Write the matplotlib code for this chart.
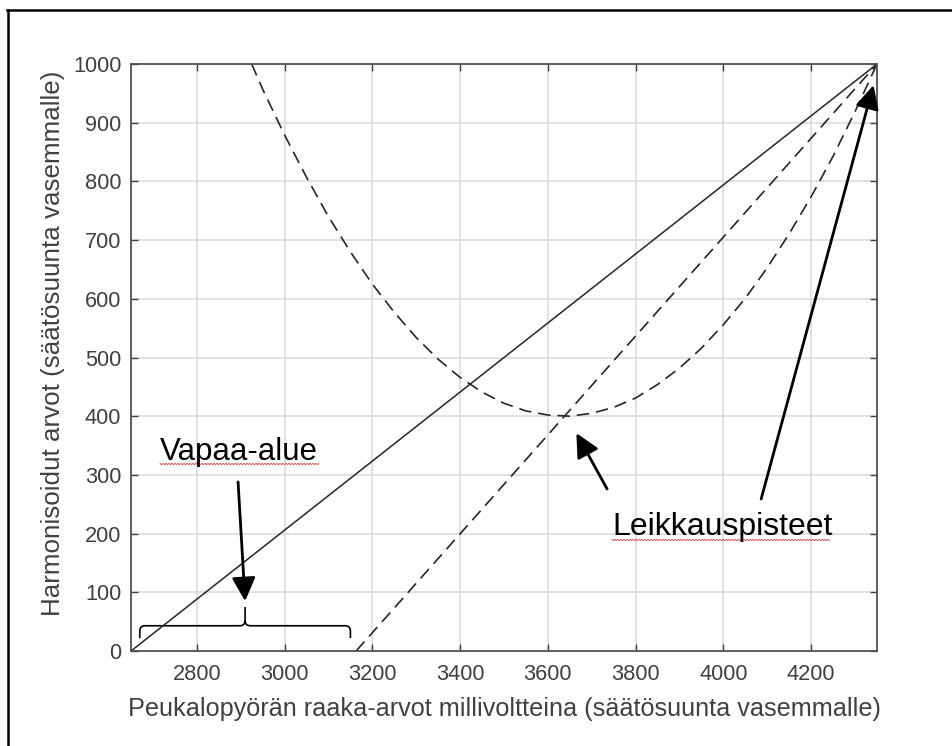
import numpy as np
import matplotlib
matplotlib.use("Agg")
import matplotlib.pyplot as plt
from matplotlib.path import Path
from matplotlib.patches import PathPatch
from matplotlib.lines import Line2D

plt.rcParams['font.family'] = ['Liberation Sans', 'DejaVu Sans']
plt.rcParams['lines.scale_dashes'] = False

# Thumb-wheel raw readings (mV) mapped to harmonised values
linear_x = [2650, 4350]
linear_y = [0, 1000]

shifted_x = [3163, 4350]
shifted_y = [0, 1000]

curve_x = [2925, 2950, 3000, 3050, 3100, 3150, 3200, 3250, 3300, 3350,
           3400, 3450, 3500, 3550, 3600, 3650, 3700, 3750, 3800, 3850,
           3900, 3950, 4000, 4050, 4100, 4150, 4200, 4250, 4300, 4350]
curve_y = [1000, 957, 879, 807, 740, 680, 625, 577, 534, 497,
           466, 441, 422, 409, 402, 400, 405, 415, 431, 454,
           482, 516, 556, 601, 653, 711, 774, 843, 919, 1000]

dead_zone = [2670, 3150]

x_limits = [2650, 4350]
y_limits = [0, 1000]
x_ticks = [2800, 3000, 3200, 3400, 3600, 3800, 4000, 4200]
y_ticks = [0, 100, 200, 300, 400, 500, 600, 700, 800, 900, 1000]

x_label = "Peukalopyörän raaka-arvot millivoltteina (säätösuunta vasemmalle)"
y_label = "Harmonisoidut arvot (säätösuunta vasemmalle)"
free_label = "Vapaa-alue"
cross_label = "Leikkauspisteet"

W, H = 953, 746
fig = plt.figure(figsize=(W / 100, H / 100), dpi=100)
fig.patch.set_facecolor("white")


def fpx(x, y):
    """Pixel position measured from the top-left corner -> figure fraction."""
    return x / W, 1 - y / H


ax = fig.add_axes([131 / W, 1 - 651 / H, (877 - 131) / W, (651 - 64) / H])

ink = "#262626"
ax.plot(linear_x, linear_y, color=ink, lw=1.1, solid_capstyle="butt")
ax.plot(shifted_x, shifted_y, color=ink, lw=1.2, dashes=(9, 5))
ax.plot(curve_x, curve_y, color=ink, lw=1.2, dashes=(9, 5))

ax.set_xlim(x_limits)
ax.set_ylim(y_limits)
ax.set_xticks(x_ticks)
ax.set_yticks(y_ticks)
ax.grid(True, color="#dcdcdc", lw=1.2)
ax.set_axisbelow(True)
ax.tick_params(direction="in", top=True, right=True, length=5, width=1.0,
               color="#404040", labelsize=15.7, labelcolor="#404040")
ax.tick_params(axis="x", pad=9)
ax.tick_params(axis="y", pad=7)
for s in ax.spines.values():
    s.set_color("#505050")
    s.set_linewidth(1.3)

fig.text(*fpx(505, 716), x_label, ha="center", va="baseline",
         fontsize=18.2, color="#404040")
fig.text(*fpx(60, 343), y_label, ha="center", va="baseline", rotation=90,
         rotation_mode="anchor", fontsize=18.7, color="#404040")

# Curly brace marking the free zone
x0, x1 = dead_zone
xm = 2910
yb, yh, yt = 22, 43, 75
rx, ry = 12, 9
verts = [(x0, yb), (x0, yh - ry), (x0, yh), (x0 + rx, yh), (xm - rx, yh),
         (xm, yh), (xm, yh + ry), (xm, yt),
         (xm, yh + ry), (xm, yh), (xm + rx, yh), (x1 - rx, yh),
         (x1, yh), (x1, yh - ry), (x1, yb)]
codes = [Path.MOVETO, Path.LINETO, Path.CURVE3, Path.CURVE3, Path.LINETO,
         Path.CURVE3, Path.CURVE3, Path.LINETO,
         Path.MOVETO, Path.CURVE3, Path.CURVE3, Path.LINETO,
         Path.CURVE3, Path.CURVE3, Path.LINETO]
ax.add_patch(PathPatch(Path(verts, codes), facecolor="none", edgecolor="black",
                       lw=1.2, clip_on=False))

arrow_style = dict(arrowstyle="-|>,head_length=0.6,head_width=0.3",
                   color="black", lw=2.0, mutation_scale=24,
                   shrinkA=0, shrinkB=0)
ax.annotate("", xy=(2910, 85), xytext=(2894, 288), arrowprops=arrow_style,
            annotation_clip=False)
ax.annotate("", xy=(3665, 371), xytext=(3735, 276), arrowprops=arrow_style,
            annotation_clip=False)
ax.annotate("", xy=(4342, 964), xytext=(4086, 259), arrowprops=arrow_style,
            annotation_clip=False)

fig.text(*fpx(160, 460), free_label, ha="left", va="baseline",
         fontsize=22.5, color="black")
fig.text(*fpx(612, 535), cross_label, ha="left", va="baseline",
         fontsize=23, color="black")


def squiggle(xa, xb, y):
    xs = np.arange(xa, xb, 1.5)
    ys = y + np.where(np.arange(len(xs)) % 2 == 0, -0.8, 0.8)
    fx = xs / W
    fy = 1 - ys / H
    fig.add_artist(Line2D(fx, fy, color="#e04848", lw=0.6,
                          transform=fig.transFigure))


squiggle(160, 320, 464)
squiggle(612, 831, 540)

# Frame along the top and left edges
fig.add_artist(Line2D([8 / W, 8 / W], [0, 1 - 10 / H], color="black", lw=1.8,
                      transform=fig.transFigure))
fig.add_artist(Line2D([7 / W, 1], [1 - 10 / H, 1 - 10 / H], color="black",
                      lw=1.8, transform=fig.transFigure))

fig.savefig("out.png", dpi=100, facecolor="white")
